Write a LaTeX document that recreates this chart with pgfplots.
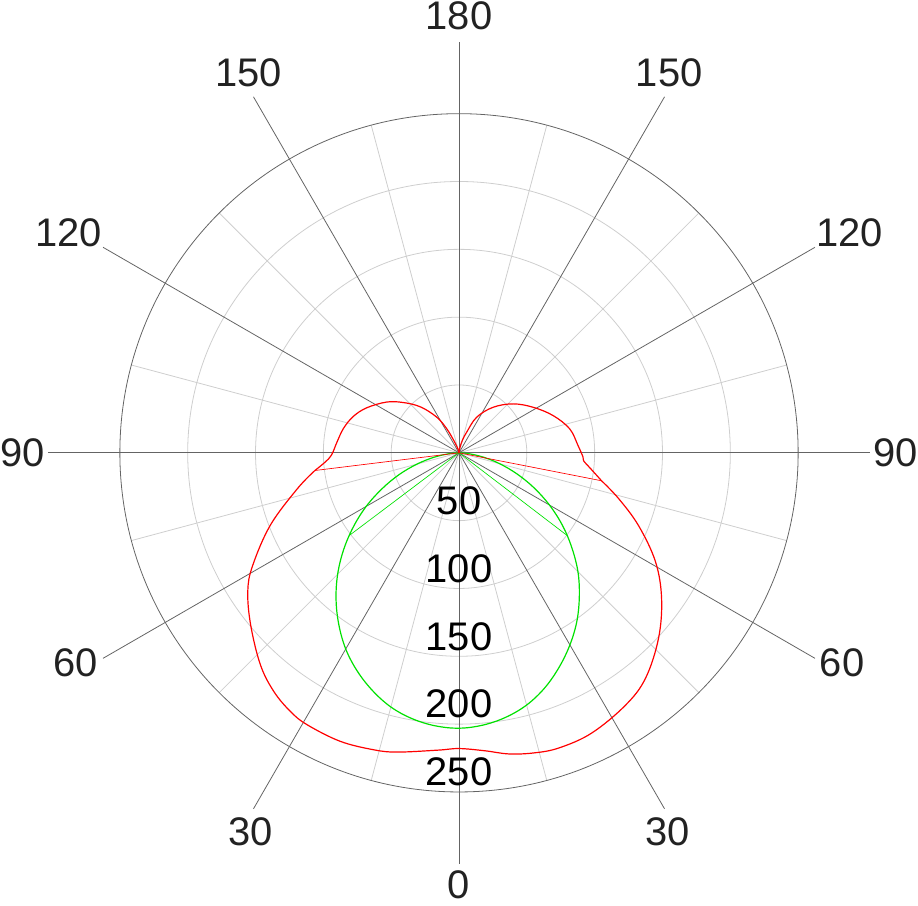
\documentclass[border=0pt]{standalone}
\usepackage{fontspec}
\setmainfont{Liberation Sans}
\usepackage{pgfplots}
\pgfplotsset{compat=1.18}
\usepackage{pgfplotstable}

\definecolor{ldtred}{RGB}{255,0,0}
\definecolor{ldtgreen}{RGB}{0,225,0}
\definecolor{gridlight}{RGB}{206,206,206}
\definecolor{griddark}{RGB}{100,100,100}
\definecolor{labelgray}{RGB}{34,34,34}

% a = angle from nadir (negative = left half), r = intensity
\pgfplotstableread{
a r
-180 0
-170 1
-165 3
-160 6
-157 10
-153 20
-148 31
-140 44.2
-132 55.4
-125 65.2
-116 75.7
-109 82.4
-102 87
-95 90.3
-89 94
-86 99
-83 107
}\redlobeleft

\pgfplotstableread{
a r
-83 107
-77.5 122
-69 149
-61.3 173.5
-56.7 186.3
-50.4 199.3
-43.1 214.2
-37.8 222.7
-33.1 227.6
-29.2 229.6
-22.4 230
-16.1 227.8
-11.7 225.3
-4 219.7
0 218
5 220.5
9.4 225
14 228
18.7 229.7
25.3 228.6
33.4 222.9
39.6 215.7
47.1 200.8
54.3 183.9
61 165.6
67.9 142.9
74 122.4
78.9 107.1
}\redmain

\pgfplotstableread{
a r
78.9 107.1
83 98
86.3 92.1
88 91.5
93.5 87.9
102.2 83.5
111.6 74.6
121.6 64.1
132.1 53.8
143.1 42
153.6 29.3
159.6 16.2
165 9.4
170 4
175 1
180 0
}\redloberight

\pgfplotstableread{
a r
-90 0
-85 7
-80 18.5
-75 32
-70 47
-65 62.5
-60 79
-55 95
-50 111
-45 126.5
-40 141
-35 154.5
-30 167
-25 177.5
-20 186.5
-15 194
-10 199
-5 202
0 203
5 201.5
10 198
15 192.5
20 184.5
25 174.5
30 163.5
35 151.5
40 138
45 124
50 108.5
55 93
60 77
65 61
70 45.5
75 31
80 18
85 7
90 0
}\greencurve

\pgfplotsset{
    polarcurve/.style={smooth, tension=0.6},
}

\begin{document}
\begin{tikzpicture}
\begin{axis}[
    x=1.02pt, y=1.02pt,
    xmin=-337.5, xmax=337.5,
    ymin=-333.8, ymax=333.8,
    hide axis,
    clip=false,
]
\path (axis cs:-337.5,-333.8) rectangle (axis cs:337.5,333.8);

% grid circles
\pgfplotsinvokeforeach{50,100,150,200}{
    \draw[gridlight, line width=0.6pt] (axis cs:0,0) circle[radius=#1];
}
% light rays every 30 deg, offset 15
\pgfplotsinvokeforeach{15,45,75,105,135,165,195,225,255,285,315,345}{
    \draw[gridlight, line width=0.6pt] (axis cs:0,0) -- (axis cs:{250*cos(#1)},{250*sin(#1)});
}
\draw[griddark, line width=0.6pt] (axis cs:0,0) circle[radius=250];
% dark rays
\pgfplotsinvokeforeach{0,30,60,90,120,150,180,210,240,270,300,330}{
    \draw[griddark, line width=0.6pt] (axis cs:0,0) -- (axis cs:{303*cos(#1)},{303*sin(#1)});
}

% curves (angle from nadir -> cartesian)
\addplot[ldtgreen, line width=0.9pt, polarcurve]
    table[x expr={\thisrow{r}*cos(\thisrow{a}-90)}, y expr={\thisrow{r}*sin(\thisrow{a}-90)}] {\greencurve};
\addplot[ldtgreen, line width=0.5pt, data cs=polar] coordinates {(0,0) (-143,101.5)};
\addplot[ldtgreen, line width=0.5pt, data cs=polar] coordinates {(0,0) (-37.4,100.2)};

\addplot[ldtred, line width=0.9pt, polarcurve]
    table[x expr={\thisrow{r}*cos(\thisrow{a}-90)}, y expr={\thisrow{r}*sin(\thisrow{a}-90)}] {\redlobeleft};
\addplot[ldtred, line width=0.9pt, polarcurve]
    table[x expr={\thisrow{r}*cos(\thisrow{a}-90)}, y expr={\thisrow{r}*sin(\thisrow{a}-90)}] {\redmain};
\addplot[ldtred, line width=0.9pt, polarcurve]
    table[x expr={\thisrow{r}*cos(\thisrow{a}-90)}, y expr={\thisrow{r}*sin(\thisrow{a}-90)}] {\redloberight};
\addplot[ldtred, line width=0.5pt, data cs=polar] coordinates {(0,0) (-173,107)};
\addplot[ldtred, line width=0.5pt, data cs=polar] coordinates {(0,0) (-11.1,107.1)};

% angle labels
\begin{scope}[every node/.style={inner sep=0pt, text=labelgray, font=\fontsize{30}{32}\selectfont}]
\node at (axis cs:0,-318.5) {0};
\node at (axis cs:0,322) {180};
\node at (axis cs:-153.7,-279.6) {30};
\node at (axis cs:153.7,-279.6) {30};
\node at (axis cs:-282.4,-155.1) {60};
\node at (axis cs:282.4,-155.1) {60};
\node at (axis cs:-322,0) {90};
\node at (axis cs:322,0) {90};
\node at (axis cs:-288,162) {120};
\node at (axis cs:288,162) {120};
\node at (axis cs:-155,279.8) {150};
\node at (axis cs:155,279.8) {150};
\end{scope}
% intensity labels
\begin{scope}[every node/.style={inner sep=0pt, text=black, font=\fontsize{30}{32}\selectfont}]
\node at (axis cs:0,-35.3) {50};
\node at (axis cs:0,-85.3) {100};
\node at (axis cs:0,-135.3) {150};
\node at (axis cs:0,-185.3) {200};
\node at (axis cs:0,-235.3) {250};
\end{scope}
\end{axis}
\end{tikzpicture}
\end{document}
